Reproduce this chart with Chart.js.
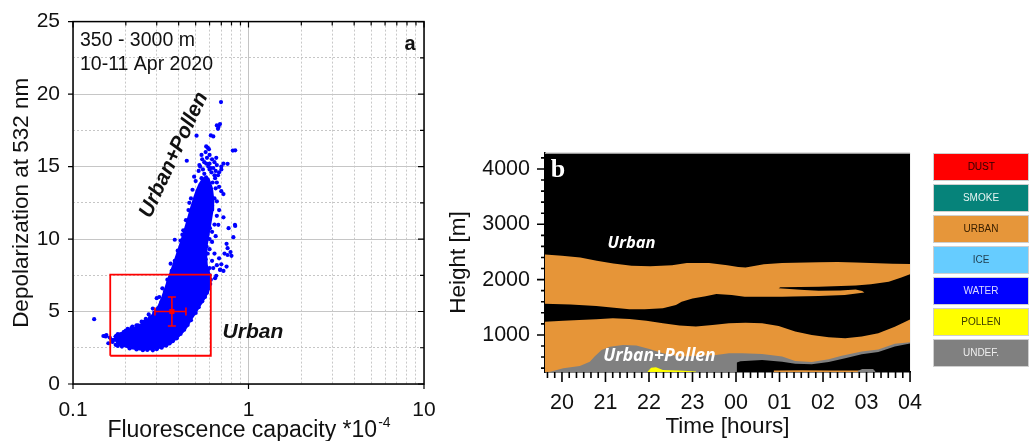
<!DOCTYPE html>
<html lang="en">
<head>
<meta charset="utf-8">
<title>Depolarization and aerosol layers, 10-11 Apr 2020</title>
<script src="https://cdn.jsdelivr.net/npm/chart.js@4.4.1/dist/chart.umd.min.js"></script>
<style>
  html, body { margin: 0; padding: 0; background: #fff; }
  body { position: relative; width: 1029px; height: 441px; overflow: hidden; font-family: "Liberation Sans", Arial, sans-serif; }
  .panel { position: absolute; }
  #panel-a { left: 0; top: -4px; width: 450px; height: 445px; }
  #panel-b { left: 440px; top: 125px; width: 500px; height: 316px; }
  .key { position: absolute; left: 933px; width: 96px; height: 28px; box-sizing: border-box; border: 1px solid #cfcfcf; font-size: 10px; line-height: 26px; text-align: center; }
</style>
</head>
<body>
<div class="panel" id="panel-a"><canvas id="depol-chart"></canvas></div>
<div class="panel" id="panel-b"><canvas id="layer-chart"></canvas></div>
<div id="key"></div>
<script>
// panel a: single measurements, fluorescence capacity (*1e-4) vs depolarization (%)
const capacity = [
  0.132, 0.149, 0.154, 0.159, 0.155, 0.152, 0.162, 0.166, 0.168, 0.171, 0.175, 0.18, 0.185, 0.19,
  0.2, 0.205, 0.218, 0.23, 0.246, 0.26, 0.27, 0.285, 0.3, 0.323, 0.31, 0.38, 0.36, 0.345,
  0.21, 0.23, 0.25, 0.265, 0.285, 0.3, 0.32, 0.34, 0.355, 0.37, 0.39, 0.41, 0.43, 0.45,
  0.48, 0.495, 0.47, 0.5, 0.52, 0.545, 0.565, 0.58, 0.595, 0.605, 0.61, 0.6,
  0.645, 0.688, 0.72, 0.66, 0.68, 0.73, 0.76, 0.75, 0.837, 0.72, 0.673, 0.603, 0.577, 0.6, 0.585,
  0.545, 0.51, 0.7, 0.75, 0.69, 0.655, 0.77, 0.84, 0.82, 0.76, 0.79, 0.8, 0.62, 0.64, 0.63,
  0.6, 0.57, 0.62, 0.65, 0.62, 0.66, 0.64, 0.68, 0.66, 0.7, 0.72, 0.68, 0.66, 0.67, 0.7, 0.68,
  0.697, 0.66, 0.688, 0.67, 0.675, 0.506, 0.61, 0.63, 0.574, 0.595, 0.585, 0.814, 0.84, 0.445, 0.545,
  0.76, 0.58, 0.6, 0.62, 0.64, 0.66, 0.7, 0.72, 0.63, 0.65, 0.56, 0.53, 0.6, 0.61,
  0.5, 0.48, 0.47, 0.455, 0.44, 0.425, 0.41, 0.395, 0.38, 0.365, 0.35, 0.335, 0.32,
  0.305, 0.29, 0.275, 0.255, 0.235, 0.215, 0.195, 0.18, 0.42, 0.46, 0.52, 0.49,
  0.6, 0.62, 0.64, 0.65, 0.645, 0.6, 0.59, 0.585,
  0.54, 0.57, 0.59, 0.615, 0.64, 0.655, 0.575, 0.525, 0.55, 0.6, 0.625, 0.585, 0.56, 0.61, 0.54
];
const depol = [
  4.47, 3.31, 3.28, 2.81, 3.38, 3.3, 3.2, 3.05, 2.9, 3.04, 2.7, 2.62, 2.75, 2.58,
  3.68, 3.8, 3.96, 4.05, 4.3, 4.5, 4.8, 5.2, 5.92, 6.6, 6.0, 9.95, 8.3, 7.2,
  2.45, 2.38, 2.33, 2.35, 2.32, 2.4, 2.5, 2.65, 2.8, 2.95, 3.15, 3.45, 3.75, 4.07,
  4.77, 5.22, 4.4, 4.9, 5.3, 5.7, 6.0, 6.3, 6.6, 6.9, 7.2, 7.5,
  7.3, 7.87, 7.8, 8.2, 8.67, 9.0, 8.9, 9.67, 10.98, 11.5, 10.98, 10.75, 9.48, 9.3, 7.87,
  8.1, 8.3, 8.26, 8.1, 7.9, 7.46, 10.75, 10.9, 10.13, 9.37, 9.1, 8.84, 8.5, 9.0, 8.0,
  8.0, 8.6, 9.8, 10.2, 10.5, 11.6, 11.0, 12.0, 12.6, 13.3, 13.1, 13.6, 13.9, 14.4, 14.8, 14.6,
  19.45, 17.84, 17.93, 17.6, 17.75, 17.13, 17.15, 17.08, 16.39, 16.2, 16.3, 16.1, 16.12, 15.4, 15.5,
  15.19, 15.6, 15.8, 15.5, 15.3, 15.1, 15.0, 15.2, 14.9, 14.7, 15.3, 15.0, 15.2, 14.9,
  14.0, 13.4, 12.8, 12.0, 11.3, 10.6, 9.9, 9.2, 8.5, 7.8, 7.0, 6.4, 5.7,
  5.2, 4.9, 4.6, 4.3, 4.05, 3.85, 3.6, 3.45, 10.3, 12.5, 14.7, 14.3,
  11.5, 12.3, 12.8, 13.5, 14.2, 10.0, 10.8, 9.0,
  15.8, 16.0, 15.0, 14.6, 14.4, 15.6, 15.2, 15.1, 14.8, 14.8, 13.9, 14.1, 14.5, 13.4, 14.2
];
// outline of the densest part of the cloud, where single points merge
const coreCapacity = [
  0.172, 0.18, 0.195, 0.215, 0.24, 0.27, 0.30, 0.33, 0.36, 0.39, 0.42, 0.445, 0.47, 0.50, 0.53,
  0.56, 0.585, 0.60, 0.595, 0.575, 0.57, 0.575, 0.59, 0.605, 0.62, 0.625, 0.615, 0.595, 0.575, 0.55,
  0.53, 0.512, 0.495, 0.475, 0.455, 0.435, 0.415, 0.395, 0.375, 0.355, 0.34, 0.325, 0.31, 0.29,
  0.27, 0.25, 0.23, 0.21, 0.19, 0.175
];
const coreDepol = [
  3.2, 2.85, 2.65, 2.5, 2.42, 2.42, 2.48, 2.62, 2.85, 3.2, 3.6, 4.0, 4.5, 5.0, 5.5,
  5.95, 6.4, 7.0, 7.6, 8.2, 8.9, 9.6, 10.4, 11.2, 12.0, 12.8, 13.5, 14.0, 14.3, 14.1,
  13.8, 13.4, 12.9, 12.2, 11.4, 10.6, 9.8, 9.0, 8.2, 7.4, 6.7, 6.0, 5.4, 4.85,
  4.45, 4.15, 3.9, 3.7, 3.5, 3.35
];
// urban reference box and its mean +- std
const urbanBoxCapacity = [0.163, 0.61, 0.61, 0.163, 0.163];
const urbanBoxDepol = [1.95, 1.95, 7.55, 7.55, 1.95];
const urbanCapacity = [0.293, 0.366, 0.44];   // low, mean, high
const urbanDepol = [4.0, 5.0, 6.0];
const capacityTickLabels = ['0.1', '1', '10'];
const depolTickLabels = ['0', '5', '10', '15', '20', '25'];

// panel b: aerosol classification, time in hours since midnight of 10 Apr
const upperTopTime = [19.61, 20.0, 20.42, 20.8, 21.18, 21.6, 22.03, 22.53, 22.87, 23.38, 23.8, 24.05, 24.22, 24.64, 25.06, 25.9, 26.33, 26.75, 27.6, 28.0];
const upperTopHeight = [2455, 2430, 2400, 2340, 2290, 2250, 2242, 2260, 2302, 2302, 2260, 2230, 2218, 2278, 2300, 2314, 2320, 2310, 2285, 2280];
const upperBaseTime = [28.0, 27.8, 27.51, 27.1, 26.75, 25.9, 25.02, 24.98, 25.57, 25.9, 26.4, 26.75, 26.9, 26.95, 26.5, 25.9, 25.3, 25.06, 24.2, 23.9, 23.55, 23.3, 23.0, 22.75, 22.62, 22.32, 21.9, 21.55, 21.2, 20.79, 20.2, 19.61];
const upperBaseHeight = [2098, 2040, 1960, 1915, 1894, 1870, 1860, 1845, 1812, 1800, 1805, 1820, 1792, 1765, 1722, 1704, 1695, 1690, 1690, 1720, 1738, 1700, 1660, 1600, 1542, 1482, 1462, 1465, 1490, 1524, 1550, 1565];
const lowerTopTime = [19.61, 20.03, 20.4, 20.79, 21.17, 21.55, 21.94, 22.32, 22.7, 23.08, 23.46, 23.84, 24.22, 24.6, 24.98, 25.36, 25.74, 26.13, 26.51, 26.89, 27.27, 27.65, 28.0];
const lowerTopHeight = [1240, 1258, 1272, 1284, 1302, 1289, 1258, 1211, 1169, 1151, 1181, 1211, 1222, 1211, 1163, 1060, 1000, 958, 940, 970, 1030, 1150, 1280];
const undefTime = [19.61, 19.73, 20.03, 20.41, 20.64, 20.75, 20.91, 21.1, 21.4, 21.71, 22.01, 22.32, 22.7, 23.08, 23.54, 23.84, 24.14, 24.6, 25.06, 25.36, 25.74, 26.13, 26.43, 26.89, 27.27, 27.65, 28.0];
const undefHeight = [330, 336, 398, 440, 517, 608, 729, 788, 819, 807, 747, 669, 608, 620, 638, 669, 669, 656, 608, 530, 510, 560, 625, 700, 735, 840, 870];
const pollenTime = [21.97, 22.05, 22.16, 22.32, 22.7, 23.08];
const pollenHeight = [340, 409, 416, 367, 355, 338];
const clearTime = [24.02, 24.1, 24.6, 25.06, 25.36, 25.74, 26.13, 26.51, 26.89, 27.27, 27.65, 28.0];
const clearHeight = [500, 525, 548, 517, 480, 470, 510, 580, 650, 690, 790, 845];
const groundUrbanTime = [24.87, 25.5, 26.2, 26.96];
const groundUrbanHeight = [358, 361, 359, 356];
const groundUndefTime = [26.8, 26.9, 27.15, 27.2];
const groundUndefHeight = [350, 385, 385, 345];
const hourLabels = ['20', '21', '22', '23', '00', '01', '02', '03', '04'];
const heightLabels = ['1000', '2000', '3000', '4000'];

const keyNames = ['DUST', 'SMOKE', 'URBAN', 'ICE', 'WATER', 'POLLEN', 'UNDEF.'];
const keyFills = ['#ff0000', '#06837a', '#e6963a', '#66ccff', '#0000ff', '#ffff00', '#808080'];
const keyInk = ['#3a0000', '#e6f4f2', '#3a2000', '#1f3c4c', '#dcdcff', '#3a3a00', '#eeeeee'];

const FAMILY = '"Liberation Sans", Arial, sans-serif';
const BLUE = '#0000ff';
const RED = '#ff0000';
const URBAN = '#e69538';
const ground = 330;

Chart.defaults.font.family = FAMILY;
Chart.defaults.color = '#111';

const pts = (xs, ys) => xs.map((x, i) => ({ x, y: ys[i] }));
const toGround = (ts, hs) => [...pts(ts, hs), { x: ts[ts.length - 1], y: ground }, { x: ts[0], y: ground }];
const isDecade = v => Math.abs(Math.log10(v) - Math.round(Math.log10(v))) < 1e-6;

// ---------- panel a ----------
const frameA = {
  id: 'frameA',
  afterDatasetsDraw(chart) {
    const { ctx, chartArea: a, scales: { x, y } } = chart;
    ctx.save();
    ctx.strokeStyle = '#000';
    ctx.lineWidth = 1.5;
    ctx.strokeRect(a.left, a.top, a.right - a.left, a.bottom - a.top);
    ctx.lineWidth = 1.2;
    ctx.beginPath();
    x.ticks.forEach(t => {
      const px = x.getPixelForValue(t.value);
      const major = isDecade(t.value);
      if (major) { ctx.moveTo(px, a.bottom); ctx.lineTo(px, a.bottom + 5); }
      ctx.moveTo(px, a.top); ctx.lineTo(px, a.top + (major ? 6 : 4));
    });
    y.ticks.forEach(t => {
      const py = y.getPixelForValue(t.value);
      const major = t.value % 5 === 0;
      if (major) { ctx.moveTo(a.left, py); ctx.lineTo(a.left - 5, py); }
      ctx.moveTo(a.right, py); ctx.lineTo(a.right - (major ? 6 : 4), py);
    });
    ctx.stroke();
    ctx.restore();
  },
  afterDraw(chart) {
    const { ctx, chartArea: a, scales: { x, y } } = chart;
    ctx.save();
    ctx.fillStyle = '#111';
    ctx.font = `19.5px ${FAMILY}`;
    ctx.fillText('350 - 3000 m', x.getPixelForValue(0.1096), y.getPixelForValue(23.3));
    ctx.fillText('10-11 Apr 2020', x.getPixelForValue(0.1096), y.getPixelForValue(21.69));
    ctx.textAlign = 'center';
    ctx.font = `bold 20px ${FAMILY}`;
    ctx.fillText('a', x.getPixelForValue(8.32), y.getPixelForValue(23.07));
    ctx.font = `italic bold 21px ${FAMILY}`;
    ctx.textBaseline = 'middle';
    ctx.fillText('Urban', x.getPixelForValue(1.06), y.getPixelForValue(3.55));
    ctx.translate(x.getPixelForValue(0.376), y.getPixelForValue(15.8));
    ctx.rotate(-65 * Math.PI / 180);
    ctx.fillText('Urban+Pollen', 0, 0);
    ctx.restore();

    // axis titles
    ctx.save();
    ctx.fillStyle = '#111';
    ctx.textAlign = 'center';
    ctx.font = `22.5px ${FAMILY}`;
    ctx.translate(28, (a.top + a.bottom) / 2);
    ctx.rotate(-Math.PI / 2);
    ctx.fillText('Depolarization at 532 nm', 0, 0);
    ctx.restore();

    ctx.save();
    ctx.fillStyle = '#111';
    const main = 'Fluorescence capacity *10';
    ctx.font = `23px ${FAMILY}`;
    const w1 = ctx.measureText(main).width;
    ctx.font = `14px ${FAMILY}`;
    const w2 = ctx.measureText('-4').width;
    const x0 = (a.left + a.right) / 2 - (w1 + w2) / 2;
    const base = a.bottom + 53;
    ctx.font = `23px ${FAMILY}`;
    ctx.fillText(main, x0, base);
    ctx.font = `14px ${FAMILY}`;
    ctx.fillText('-4', x0 + w1 + 1, base - 10);
    ctx.restore();
  }
};

const capacityTicks = [];
[0.1, 1].forEach(d => { for (let m = 1; m < 10; m++) capacityTicks.push(d * m); });
capacityTicks.push(10);
const depolGrid = [];
for (let v = 0; v <= 25; v += 2.5) depolGrid.push(v);

new Chart(document.getElementById('depol-chart'), {
  type: 'scatter',
  data: {
    datasets: [
      // lower order is painted on top
      {
        label: 'urban mean', order: 0,
        data: [{ x: urbanCapacity[1], y: urbanDepol[1] }],
        pointStyle: 'rect', pointRadius: 3.6, backgroundColor: RED, borderColor: RED, pointBorderWidth: 0
      },
      {
        label: 'capacity std', order: 1,
        data: [{ x: urbanCapacity[0], y: urbanDepol[1] }, { x: urbanCapacity[2], y: urbanDepol[1] }],
        showLine: true, borderColor: RED, borderWidth: 1.6,
        pointStyle: 'line', pointRotation: 90, pointRadius: 4, pointBorderColor: RED, pointBorderWidth: 1.6
      },
      {
        label: 'depol std', order: 1,
        data: [{ x: urbanCapacity[1], y: urbanDepol[0] }, { x: urbanCapacity[1], y: urbanDepol[2] }],
        showLine: true, borderColor: RED, borderWidth: 1.6,
        pointStyle: 'line', pointRotation: 0, pointRadius: 4, pointBorderColor: RED, pointBorderWidth: 1.6
      },
      {
        label: 'urban box', order: 2,
        data: pts(urbanBoxCapacity, urbanBoxDepol),
        showLine: true, borderColor: RED, borderWidth: 1.8, pointRadius: 0
      },
      {
        label: 'samples', order: 3,
        data: pts(capacity, depol),
        pointRadius: 2.1, pointBackgroundColor: BLUE, pointBorderWidth: 0
      },
      {
        label: 'dense core', order: 4,
        data: [...pts(coreCapacity, coreDepol), { x: coreCapacity[0], y: coreDepol[0] }],
        showLine: true, fill: 'shape', backgroundColor: BLUE, borderColor: BLUE,
        borderWidth: 3, borderJoinStyle: 'round', pointRadius: 0
      }
    ]
  },
  options: {
    responsive: true, maintainAspectRatio: false, animation: false, events: [],
    layout: { padding: { top: 0, right: 26, bottom: 0, left: 0 } },
    plugins: { legend: { display: false }, tooltip: { enabled: false } },
    scales: {
      x: {
        type: 'logarithmic', min: 0.1, max: 10,
        afterBuildTicks: s => { s.ticks = capacityTicks.map(value => ({ value })); },
        afterFit: s => { s.height = 57; },
        grid: { drawTicks: false, color: ctx => isDecade(ctx.tick.value) ? '#c4c4c4' : '#c8c8c8', lineWidth: 1 },
        border: { display: false, dash: ctx => isDecade(ctx.tick.value) ? [] : [2, 2] },
        ticks: {
          autoSkip: false, maxRotation: 0, padding: 14, font: { size: 21 },
          callback: v => isDecade(v) ? capacityTickLabels[Math.round(Math.log10(v)) + 1] : ''
        }
      },
      y: {
        min: 0, max: 25,
        afterBuildTicks: s => { s.ticks = depolGrid.map(value => ({ value })); },
        afterFit: s => { s.width = 73; },
        grid: { drawTicks: false, color: '#c6c6c6', lineWidth: 1 },
        border: { display: false, dash: ctx => ctx.tick.value % 5 === 0 ? [] : [2, 2] },
        ticks: {
          autoSkip: false, padding: 13, font: { size: 21 },
          callback: v => v % 5 === 0 ? depolTickLabels[v / 5] : ''
        }
      }
    }
  },
  plugins: [frameA]
});

// ---------- panel b ----------
const layers = [
  { name: 'urban aloft', color: URBAN, data: [...pts(upperTopTime, upperTopHeight), ...pts(upperBaseTime, upperBaseHeight)] },
  { name: 'urban', color: URBAN, data: toGround(lowerTopTime, lowerTopHeight) },
  { name: 'undefined', color: '#808080', data: toGround(undefTime, undefHeight) },
  { name: 'pollen', color: '#ffff00', data: toGround(pollenTime, pollenHeight) },
  { name: 'no aerosol', color: '#000000', data: toGround(clearTime, clearHeight) },
  { name: 'urban near ground', color: URBAN, data: toGround(groundUrbanTime, groundUrbanHeight) },
  { name: 'undefined near ground', color: '#808080', data: toGround(groundUndefTime, groundUndefHeight) }
];

const decorB = {
  id: 'decorB',
  beforeDatasetsDraw(chart) {
    const { ctx, chartArea: a } = chart;
    ctx.save();
    ctx.fillStyle = '#000';
    ctx.fillRect(a.left, a.top, a.right - a.left, a.bottom - a.top);
    ctx.restore();
  },
  afterDraw(chart) {
    const { ctx, chartArea: a, scales: { x, y } } = chart;
    ctx.save();
    ctx.strokeStyle = '#aaa';
    ctx.lineWidth = 1;
    ctx.beginPath();
    ctx.moveTo(a.left, a.top + 0.5); ctx.lineTo(a.right, a.top + 0.5);
    ctx.stroke();

    ctx.strokeStyle = '#000';
    ctx.lineWidth = 1.6;
    ctx.beginPath();
    x.ticks.forEach(t => {
      const px = x.getPixelForValue(t.value);
      const major = Math.round(t.value * 6) % 6 === 0;
      ctx.moveTo(px, a.bottom); ctx.lineTo(px, a.bottom + (major ? 10 : 6));
    });
    y.ticks.forEach(t => {
      const py = y.getPixelForValue(t.value);
      const major = t.value % 1000 === 0;
      ctx.moveTo(a.left, py); ctx.lineTo(a.left - (major ? 8 : 4), py);
    });
    ctx.stroke();

    ctx.fillStyle = '#fff';
    ctx.textAlign = 'center';
    ctx.textBaseline = 'middle';
    ctx.font = 'bold 26px "Liberation Serif", "Times New Roman", serif';
    ctx.fillText('b', x.getPixelForValue(19.91), y.getPixelForValue(3983));
    ctx.font = 'italic bold 16.5px "Open Sans", "DejaVu Sans", sans-serif';
    ctx.fillText('Urban', x.getPixelForValue(21.6), y.getPixelForValue(2663));
    ctx.font = 'italic bold 17.5px "Open Sans", "DejaVu Sans", sans-serif';
    ctx.fillText('Urban+Pollen', x.getPixelForValue(22.24), y.getPixelForValue(620));
    ctx.restore();

    // axis titles
    ctx.save();
    ctx.fillStyle = '#111';
    ctx.textAlign = 'center';
    ctx.font = `22.5px ${FAMILY}`;
    ctx.fillText('Time [hours]', (a.left + a.right) / 2, a.bottom + 61);
    ctx.translate(25, (a.top + a.bottom) / 2);
    ctx.rotate(-Math.PI / 2);
    ctx.fillText('Height [m]', 0, 0);
    ctx.restore();
  }
};

const hourTicks = [];
for (let k = 118; k <= 168; k++) hourTicks.push(k / 6);   // every 10 minutes
const heightTicks = [];
for (let h = 400; h <= 4200; h += 200) heightTicks.push(h);

new Chart(document.getElementById('layer-chart'), {
  type: 'scatter',
  data: {
    datasets: layers.map((layer, i) => ({
      label: layer.name,
      order: layers.length - i,
      data: layer.data,
      showLine: true, fill: 'shape',
      backgroundColor: layer.color, borderWidth: 0, pointRadius: 0
    }))
  },
  options: {
    responsive: true, maintainAspectRatio: false, animation: false, events: [],
    layout: { padding: { top: 0, right: 27, bottom: 0, left: 0 } },
    plugins: { legend: { display: false }, tooltip: { enabled: false } },
    scales: {
      x: {
        type: 'linear', min: 19.61, max: 28,
        afterBuildTicks: s => { s.ticks = hourTicks.map(value => ({ value })); },
        afterFit: s => { s.height = 69; },
        grid: { display: false, drawTicks: false },
        border: { display: true, color: '#000', width: 1.5 },
        ticks: {
          autoSkip: false, maxRotation: 0, padding: 18, font: { size: 21.5 },
          callback: v => {
            const k = Math.round(v * 6);
            return k % 6 === 0 ? hourLabels[k / 6 - 20] : '';
          }
        }
      },
      y: {
        min: 330, max: 4290,
        afterBuildTicks: s => { s.ticks = heightTicks.map(value => ({ value })); },
        afterFit: s => { s.width = 105; },
        grid: { display: false, drawTicks: false },
        border: { display: true, color: '#000', width: 1.5 },
        ticks: {
          autoSkip: false, padding: 15, font: { size: 21.5 },
          callback: v => v % 1000 === 0 ? heightLabels[v / 1000 - 1] : ''
        }
      }
    }
  },
  plugins: [decorB]
});

// class key to the right of panel b
const key = document.getElementById('key');
keyNames.forEach((name, i) => {
  const box = document.createElement('div');
  box.className = 'key';
  box.style.top = (153 + 31 * i) + 'px';
  box.style.background = keyFills[i];
  box.style.color = keyInk[i];
  box.textContent = name;
  key.appendChild(box);
});
</script>
</body>
</html>
